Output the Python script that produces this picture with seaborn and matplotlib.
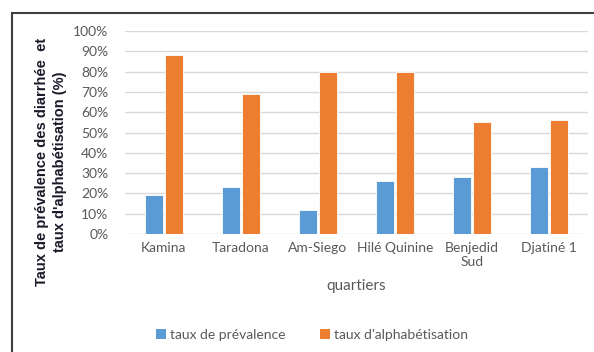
import matplotlib
matplotlib.use("Agg")
import matplotlib.pyplot as plt
import pandas as pd
import seaborn as sns
from matplotlib.patches import Rectangle

# données
quartiers = ['Kamina', 'Taradona', 'Am-Siego', 'Hilé Quinine', 'Benjedid\nSud', 'Djatiné 1']
prevalence = [19, 23, 12, 26, 28, 33]
alphabetisation = [88, 69, 80, 80, 55, 56]
series = ['taux de prévalence', "taux d'alphabétisation"]
couleurs = ['#5B9BD5', '#ED7D31']

df = pd.DataFrame({'quartier': quartiers * 2,
                   'serie': [series[0]] * 6 + [series[1]] * 6,
                   'taux': prevalence + alphabetisation})

sns.set_theme(style='white')
plt.rcParams['font.family'] = ['Lato', 'DejaVu Sans']

fig = plt.figure(figsize=(5.94, 3.52), dpi=100)
ax = fig.add_axes([125 / 594, 1 - 234 / 352, (588 - 125) / 594, (234 - 31) / 352])

sns.barplot(data=df, x='quartier', y='taux', hue='serie', palette=couleurs,
            saturation=1, width=0.52, gap=0.1, ax=ax, legend=False, zorder=3,
            edgecolor='white', linewidth=0.6)

ax.set_ylim(0, 100)
ax.set_xlim(-0.5, 5.5)
ax.set_yticks(range(0, 101, 10))
ax.set_yticklabels([f'{v}%' for v in range(0, 101, 10)], color='#595959', fontsize=10)
ax.tick_params(axis='x', colors='#595959', labelsize=10, length=0, pad=6)
ax.tick_params(axis='y', length=0, pad=12)
ax.grid(axis='y', color='#d9d9d9', linewidth=1, zorder=0)
for s in ax.spines.values():
    s.set_visible(False)

ax.set_xlabel('quartiers', color='#595959', fontsize=11, labelpad=8)
ax.set_ylabel('')

fig.text(51 / 594, 1 - 162 / 352,
         "Taux de prévalence des diarrhée  et\ntaux d'alphabétisation (%)",
         rotation=90, ha='center', va='center', fontsize=10.5, fontweight='bold',
         color='#1a1a2a', family=['Liberation Sans', 'DejaVu Sans'], linespacing=1.45)

handles = [Rectangle((0, 0), 1, 1, fc=c, ec='none') for c in couleurs]
fig.legend(handles, series, loc='center', bbox_to_anchor=(312 / 594, 1 - 335 / 352),
           ncol=2, frameon=False, fontsize=10, labelcolor='#595959',
           handlelength=0.7, handleheight=0.7, handletextpad=0.3, columnspacing=2.5)

# cadre de la figure
fig.patches.append(Rectangle((11.5 / 594, -0.1), 1.2, 1 - 12.5 / 352 + 0.1,
                             transform=fig.transFigure, fill=False,
                             ec='#404040', lw=1.5))

fig.savefig('out.png', dpi=100)
